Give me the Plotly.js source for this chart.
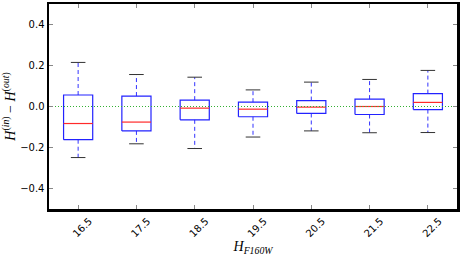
<!DOCTYPE html>
<html>
<head>
<meta charset="utf-8">
<script src="https://cdn.plot.ly/plotly-3.0.1.min.js"></script>
<style>html,body{margin:0;padding:0;background:#fff;}#chart{width:463px;height:256px;}</style>
</head>
<body>
<div id="chart"></div>
<script>
const categories = ["16.5", "17.5", "18.5", "19.5", "20.5", "21.5", "22.5"];
const whiskerLow  = [-0.249, -0.182, -0.205, -0.149, -0.119, -0.128, -0.127];
const q1          = [-0.162, -0.119, -0.065, -0.050, -0.034, -0.039, -0.015];
const medians     = [-0.083, -0.076, -0.008, -0.013, -0.003,  0.000,  0.020];
const q3          = [ 0.056,  0.051,  0.031,  0.021,  0.029,  0.036,  0.063];
const whiskerHigh = [ 0.215,  0.156,  0.143,  0.081,  0.119,  0.132,  0.176];

const boxHalf = 0.25, capHalf = 0.125;
const pos = categories.map((c, i) => i + 1);

const boxX = [], boxY = [], medX = [], medY = [], whX = [], whY = [], capX = [], capY = [];
pos.forEach((p, i) => {
  boxX.push(p - boxHalf, p + boxHalf, p + boxHalf, p - boxHalf, p - boxHalf, null);
  boxY.push(q1[i], q1[i], q3[i], q3[i], q1[i], null);
  medX.push(p - boxHalf, p + boxHalf, null);
  medY.push(medians[i], medians[i], null);
  whX.push(p, p, null, p, p, null);
  whY.push(q3[i], whiskerHigh[i], null, q1[i], whiskerLow[i], null);
  capX.push(p - capHalf, p + capHalf, null, p - capHalf, p + capHalf, null);
  capY.push(whiskerHigh[i], whiskerHigh[i], null, whiskerLow[i], whiskerLow[i], null);
});

const traces = [
  {x: whX, y: whY, mode: 'lines', line: {color: '#3333ff', width: 1, dash: '4px,3px'}, hoverinfo: 'skip'},
  {x: capX, y: capY, mode: 'lines', line: {color: '#333333', width: 1}, hoverinfo: 'skip'},
  {x: boxX, y: boxY, mode: 'lines', line: {color: '#2222ff', width: 1.2}, hoverinfo: 'skip'},
  {x: medX, y: medY, mode: 'lines', line: {color: '#ff2a2a', width: 1.2}, hoverinfo: 'skip'},
  {x: [0.5, 7.5], y: [0, 0], mode: 'lines', line: {color: '#33b033', width: 1.2, dash: '1px,2px'}, hoverinfo: 'skip'}
];

const layout = {
  width: 463, height: 256,
  margin: {l: 49, r: 6, t: 4, b: 47},
  paper_bgcolor: '#fff', plot_bgcolor: '#fff',
  showlegend: false,
  font: {family: 'DejaVu Sans', size: 10, color: '#000'},
  xaxis: {
    range: [0.5, 7.5], tickmode: 'array', tickvals: pos, ticktext: categories,
    tickangle: -45, ticklabelshift: 11,
    ticks: 'inside', ticklen: 4, tickcolor: '#888', tickwidth: 1,
    showline: true, linecolor: '#000', linewidth: 2.5, mirror: 'allticks',
    showgrid: false, zeroline: false,
    title: {text: '<i>H</i><sub><i>F160W</i></sub>', font: {family: 'Liberation Serif', size: 14}, standoff: 2}
  },
  yaxis: {
    range: [-0.5, 0.5], tickmode: 'array', tickvals: [-0.4, -0.2, 0, 0.2, 0.4],
    ticktext: ['\u22120.4', '\u22120.2', '0.0', '0.2', '0.4'],
    ticks: 'inside', ticklen: 4, tickcolor: '#888', tickwidth: 1,
    showline: true, linecolor: '#000', linewidth: 2.5, mirror: 'allticks',
    showgrid: false, zeroline: false,
    title: {text: '<i>H</i><sup>(<i>in</i>)</sup> \u2212 <i>H</i><sup>(<i>out</i>)</sup>', font: {family: 'Liberation Serif', size: 14}, standoff: 4}
  }
};

Plotly.newPlot('chart', traces, layout, {staticPlot: true, displayModeBar: false});
</script>
</body>
</html>
